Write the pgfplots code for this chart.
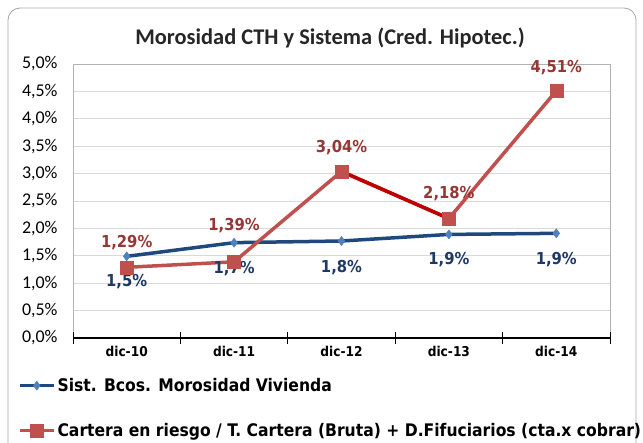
\documentclass[border=0pt]{standalone}
\usepackage{pgfplots}
\usepackage{pgfplotstable}
\pgfplotsset{compat=1.18}
\pgfkeys{/pgf/number format/assume math mode=true}
\usepackage{fontspec}
\setmainfont{Carlito}
\newfontfamily\tah{DejaVu Sans Condensed}
\definecolor{bl}{HTML}{1F497D}
\definecolor{blm}{HTML}{4F81BD}
\definecolor{bllab}{HTML}{1F3864}
\definecolor{rd}{HTML}{C0504D}
\definecolor{rdd}{HTML}{C00000}
\definecolor{rdlab}{HTML}{953735}
\definecolor{gridc}{HTML}{D9D9D9}
\pgfplotstableread{
x y off
0 1.49 -25
1 1.74 -26
2 1.77 -27
3 1.89 -25
4 1.91 -26
}\sist
\pgfplotstableread{
x y off
0 1.29 25
1 1.39 36
2 3.04 24
3 2.18 25
4 4.51 23
}\cart
\pgfplotstableread{
x y
2 3.04
3 2.18
}\seg
\begin{document}
\begin{tikzpicture}
\path (0bp,0bp) rectangle (643bp,443bp);
\draw[gray!70, line width=0.8bp, rounded corners=12bp] (8bp,-20bp) -- (8bp,435bp) -- (636bp,435bp) -- (636bp,-20bp);
\node[font=\bfseries\fontsize{22.5}{26}\selectfont, text=black!85] at (330bp,405bp) {Morosidad CTH y Sistema (Cred. Hipotec.)};
\begin{axis}[
  at={(73bp,105bp)}, anchor=south west,
  scale only axis, width=537bp, height=274bp,
  xmin=-0.5, xmax=4.5, ymin=0, ymax=5,
  tick pos=left,
  xtick={0,1,2,3,4},
  xticklabels={dic-10,dic-11,dic-12,dic-13,dic-14},
  xticklabel style={font=\tah\bfseries\fontsize{13.6}{16}\selectfont, yshift=-5bp},
  extra x ticks={-0.5,0.5,1.5,2.5,3.5,4.5},
  extra x tick labels={},
  extra x tick style={major tick length=11bp, tick align=center, tick style={black, line width=1bp}},
  major tick length=0pt,
  ytick={0,0.5,...,5},
  yticklabel={\pgfmathprintnumber[fixed,fixed zerofill,precision=1,use comma]{\tick}\%},
  yticklabel style={font=\fontsize{18}{21}\selectfont, xshift=-12bp},
  ymajorgrids, grid style={gridc, line width=0.8bp},
  axis line style={gray!60, line width=0.8bp},
  clip=false,
  legend style={at={(axis description cs:-0.1027,-0.139)}, anchor=north west, draw=none, fill=none,
    inner sep=0pt, font=\tah\bfseries\fontsize{17.4}{20}\selectfont, row sep=26bp,
    cells={anchor=west}},
  legend image code/.code={\draw[mark repeat=2,mark phase=2,#1] plot coordinates {(0bp,0bp) (17bp,0bp) (34bp,0bp)};},
]
\draw[black, line width=1.3bp] (rel axis cs:0,0) -- (rel axis cs:1,0);
\addplot[bl, line width=3.5bp, mark=diamond*, mark size=4.5bp, mark options={fill=blm, draw=blm, line width=0.5bp},
  point meta=explicit,
  visualization depends on={\thisrow{off}\as\myoff},
  nodes near coords={\pgfmathprintnumber[fixed,fixed zerofill,precision=1,use comma]{\pgfplotspointmeta}\%},
  every node near coord/.append style={anchor=center, yshift=\myoff bp, text=bllab, font=\tah\bfseries\fontsize{16.5}{19}\selectfont}]
  table[x=x,y=y,meta=y]{\sist};
\addlegendentry{Sist. Bcos. Morosidad Vivienda}
\addplot[rd, line width=3.5bp, mark=square*, mark size=6.5bp, mark options={fill=rd, draw=rd, line width=0.5bp},
  point meta=explicit,
  visualization depends on={\thisrow{off}\as\myoff},
  nodes near coords={\pgfmathprintnumber[fixed,fixed zerofill,precision=2,use comma]{\pgfplotspointmeta}\%},
  every node near coord/.append style={anchor=center, yshift=\myoff bp, text=rdlab, font=\tah\bfseries\fontsize{16.5}{19}\selectfont}]
  table[x=x,y=y,meta=y]{\cart};
\addlegendentry{Cartera en riesgo / T. Cartera (Bruta) + D.Fifuciarios (cta.x cobrar)}
\addplot[rdd, line width=3.5bp, no marks, forget plot] table[x=x,y=y]{\seg};
\addplot[only marks, mark=square*, mark size=6.5bp, mark options={fill=rd, draw=rd, line width=0.5bp}, forget plot]
  table[x=x,y=y]{\seg};
\end{axis}
\pgfresetboundingbox
\path (0bp,0bp) rectangle (643bp,443bp);
\end{tikzpicture}
\end{document}
